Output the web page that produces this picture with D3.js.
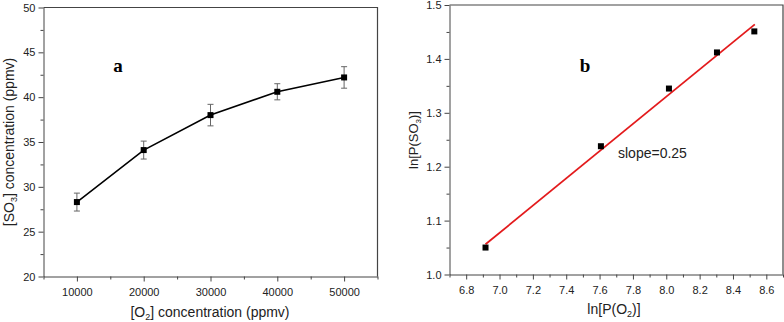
<!DOCTYPE html>
<html>
<head>
<meta charset="utf-8">
<script src="https://cdn.jsdelivr.net/npm/d3@7"></script>
<style>
  body { margin: 0; background: #fff; }
  svg { display: block; font-family: "Liberation Sans", Arial, sans-serif; }
  .axis text { font-size: 11px; fill: #222; }
  .axis path, .axis line { stroke: #444; }
</style>
</head>
<body>
<div id="chart"></div>
<script>
// panel a: SO3 vs O2 concentration
const o2Conc = [10000, 20000, 30000, 40000, 50000];
const so3Conc = [28.3, 34.1, 38.0, 40.6, 42.2];
const so3Err = [1.0, 1.0, 1.2, 0.9, 1.2];
const xTicksA = [10000, 20000, 30000, 40000, 50000];
const yTicksA = [20, 25, 30, 35, 40, 45, 50];

// panel b: ln-ln fit
const lnPO2 = [6.916, 7.608, 8.016, 8.304, 8.528];
const lnPSO3 = [1.050, 1.238, 1.345, 1.412, 1.451];
const fitLine = [[6.916, 1.056], [8.531, 1.464]];
const xTicksB = [6.8, 7.0, 7.2, 7.4, 7.6, 7.8, 8.0, 8.2, 8.4, 8.6];
const yTicksB = [1.0, 1.1, 1.2, 1.3, 1.4, 1.5];

const W = 784, H = 322;
const svg = d3.select("#chart").append("svg")
    .attr("width", W)
    .attr("height", H);

// draws frame + outward ticks (major and minor)
function drawFrame(x, y, xMajor, xMinor, yMajor, yMinor, xFmt, yFmt) {
    const [x0, x1] = x.range();
    const [y0, y1] = y.range();

    svg.append("g")
        .attr("class", "axis")
        .attr("transform", `translate(0,${y0})`)
        .call(d3.axisBottom(x).tickValues(xMinor).tickSize(3).tickFormat(""))
        .call(g => g.select(".domain").remove());
    svg.append("g")
        .attr("class", "axis")
        .attr("transform", `translate(0,${y0})`)
        .call(d3.axisBottom(x).tickValues(xMajor).tickSize(5).tickSizeOuter(0).tickFormat(xFmt))
        .call(g => g.selectAll("text").attr("dy", "1.0em"));

    svg.append("g")
        .attr("class", "axis")
        .attr("transform", `translate(${x0},0)`)
        .call(d3.axisLeft(y).tickValues(yMinor).tickSize(3).tickFormat(""))
        .call(g => g.select(".domain").remove());
    svg.append("g")
        .attr("class", "axis")
        .attr("transform", `translate(${x0},0)`)
        .call(d3.axisLeft(y).tickValues(yMajor).tickSize(5).tickSizeOuter(0).tickFormat(yFmt));

    // top and right spines
    svg.append("path")
        .attr("d", `M${x0},${y1}H${x1}V${y0}`)
        .attr("fill", "none")
        .attr("stroke", "#444")
        .attr("stroke-width", 1.2);
}

// ---------- panel a ----------
const xa = d3.scaleLinear().domain([5000, 55000]).range([43.5, 377.5]);
const ya = d3.scaleLinear().domain([20, 50]).range([276.5, 7.5]);

drawFrame(xa, ya, xTicksA, d3.range(15000, 55000, 10000).concat([5000, 55000]),
    yTicksA, d3.range(22.5, 50, 5), d3.format("d"), d3.format("d"));

const dataA = o2Conc.map((d, i) => ({x: d, y: so3Conc[i], e: so3Err[i]}));

// error bars
const eb = svg.append("g").attr("stroke", "#666").attr("stroke-width", 1);
dataA.forEach(d => {
    eb.append("line").attr("x1", xa(d.x)).attr("x2", xa(d.x))
        .attr("y1", ya(d.y - d.e)).attr("y2", ya(d.y + d.e));
    eb.append("line").attr("x1", xa(d.x) - 3).attr("x2", xa(d.x) + 3)
        .attr("y1", ya(d.y - d.e)).attr("y2", ya(d.y - d.e));
    eb.append("line").attr("x1", xa(d.x) - 3).attr("x2", xa(d.x) + 3)
        .attr("y1", ya(d.y + d.e)).attr("y2", ya(d.y + d.e));
});

svg.append("path")
    .datum(dataA)
    .attr("fill", "none")
    .attr("stroke", "#000")
    .attr("stroke-width", 1.6)
    .attr("d", d3.line().x(d => xa(d.x)).y(d => ya(d.y)));

svg.selectAll(".sqA").data(dataA).enter().append("rect")
    .attr("class", "sqA")
    .attr("x", d => xa(d.x) - 3)
    .attr("y", d => ya(d.y) - 3)
    .attr("width", 6).attr("height", 6)
    .attr("fill", "#000");

svg.append("text")
    .attr("x", 118).attr("y", 72)
    .attr("text-anchor", "middle")
    .style("font-family", "'Liberation Serif', 'Times New Roman', serif")
    .style("font-weight", "bold")
    .style("font-size", "19px")
    .text("a");

// axis titles a
const xtA = svg.append("text")
    .attr("x", 210).attr("y", 317)
    .attr("text-anchor", "middle")
    .style("font-size", "14px").attr("fill", "#222");
xtA.append("tspan").text("[O");
xtA.append("tspan").attr("dy", 3).style("font-size", "9px").text("2");
xtA.append("tspan").attr("dy", -3).text("] concentration (ppmv)");

const ytA = svg.append("text")
    .attr("transform", "translate(14,142) rotate(-90)")
    .attr("text-anchor", "middle")
    .style("font-size", "14px").attr("fill", "#222");
ytA.append("tspan").text("[SO");
ytA.append("tspan").attr("dy", 3).style("font-size", "9px").text("3");
ytA.append("tspan").attr("dy", -3).text("] concentration (ppmv)");

// ---------- panel b ----------
const xb = d3.scaleLinear().domain([6.7, 8.7]).range([449.5, 783]);
const yb = d3.scaleLinear().domain([1.0, 1.5]).range([274.5, 5]);

drawFrame(xb, yb, xTicksB, d3.range(6.7, 8.75, 0.2), yTicksB, d3.range(1.05, 1.5, 0.1),
    d3.format(".1f"), d3.format(".1f"));

svg.append("path")
    .datum(fitLine)
    .attr("fill", "none")
    .attr("stroke", "#e31a1c")
    .attr("stroke-width", 1.8)
    .attr("d", d3.line().x(d => xb(d[0])).y(d => yb(d[1])));

const dataB = lnPO2.map((d, i) => ({x: d, y: lnPSO3[i]}));
svg.selectAll(".sqB").data(dataB).enter().append("rect")
    .attr("class", "sqB")
    .attr("x", d => xb(d.x) - 3)
    .attr("y", d => yb(d.y) - 3)
    .attr("width", 6).attr("height", 6)
    .attr("fill", "#000");

svg.append("text")
    .attr("x", 585).attr("y", 72)
    .attr("text-anchor", "middle")
    .style("font-family", "'Liberation Serif', 'Times New Roman', serif")
    .style("font-weight", "bold")
    .style("font-size", "19px")
    .text("b");

svg.append("text")
    .attr("x", 618).attr("y", 158)
    .style("font-size", "14px").attr("fill", "#222")
    .text("slope=0.25");

const xtB = svg.append("text")
    .attr("x", 614).attr("y", 314)
    .attr("text-anchor", "middle")
    .style("font-size", "14px").attr("fill", "#222");
xtB.append("tspan").text("ln[P(O");
xtB.append("tspan").attr("dy", 3).style("font-size", "9px").text("2");
xtB.append("tspan").attr("dy", -3).text(")]");

const ytB = svg.append("text")
    .attr("transform", "translate(418,140) rotate(-90)")
    .attr("text-anchor", "middle")
    .style("font-size", "13px").attr("fill", "#222");
ytB.append("tspan").text("ln[P(SO");
ytB.append("tspan").attr("dy", 3).style("font-size", "8px").text("3");
ytB.append("tspan").attr("dy", -3).text(")]");
</script>
</body>
</html>
